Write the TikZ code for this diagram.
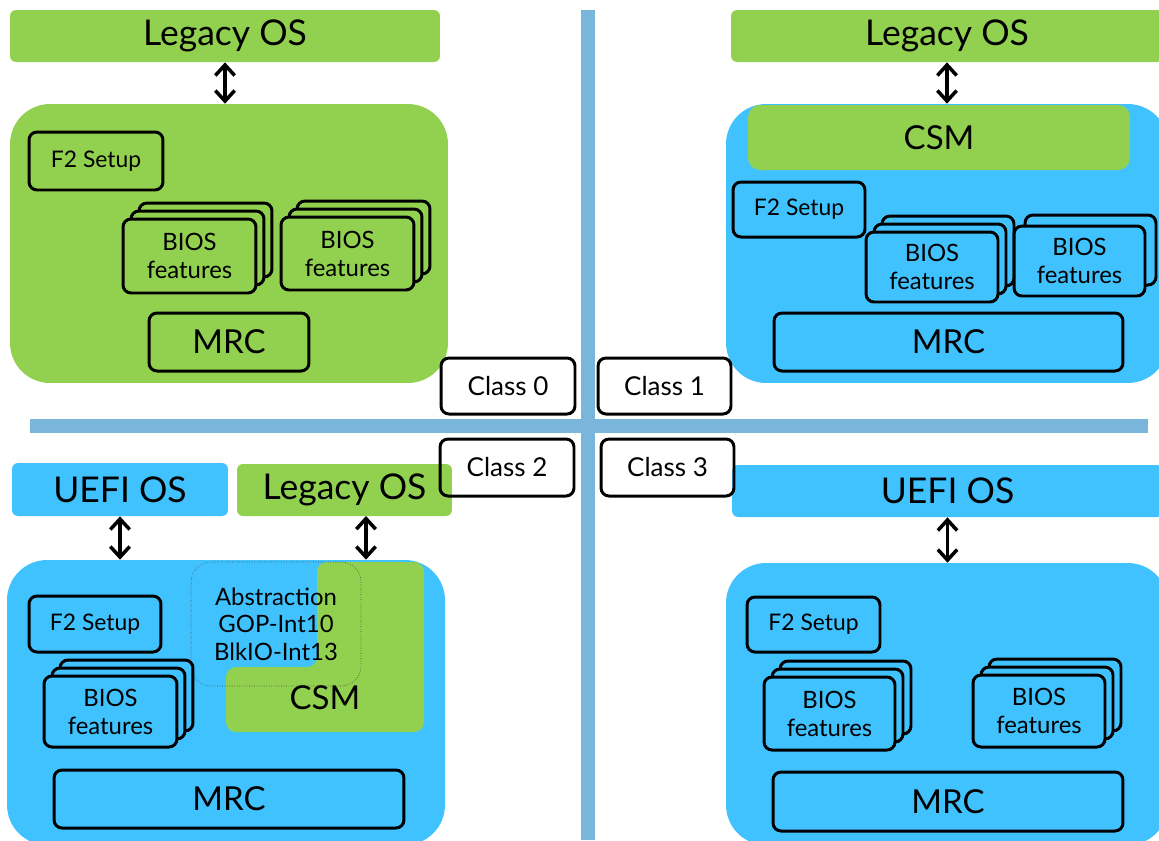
\documentclass[tikz,border=0pt]{standalone}
\usepackage{fontspec}
\setmainfont{Lato}
\usetikzlibrary{arrows.meta}
\usetikzlibrary{shadows}
\definecolor{legacygreen}{RGB}{146,208,80}
\definecolor{uefiblue}{RGB}{64,194,255}
\definecolor{barblue}{RGB}{122,181,220}
\tikzset{
  osbar/.style={rounded corners=0.12cm,inner sep=0pt,font=\fontsize{20.2}{24}\selectfont},
  core/.style={rounded corners=0.8cm,inner sep=0pt},
  part/.style={draw=black,line width=1.7pt,rounded corners=0.16cm,inner sep=0pt,align=center},
  f2/.style={part,font=\fontsize{13}{15}\selectfont},
  mrc/.style={part,font=\fontsize{18.8}{22}\selectfont},
  bios/.style={part,font=\fontsize{13.6}{15.9}\selectfont},
  greenstack/.style={fill=legacygreen,
    copy shadow={shadow xshift=0.32cm,shadow yshift=0.32cm,fill=legacygreen,draw=black,line width=1.7pt},
    copy shadow={shadow xshift=0.16cm,shadow yshift=0.16cm,fill=legacygreen,draw=black,line width=1.7pt}},
  bluestack/.style={fill=uefiblue,
    copy shadow={shadow xshift=0.32cm,shadow yshift=0.32cm,fill=uefiblue,draw=black,line width=1.7pt},
    copy shadow={shadow xshift=0.16cm,shadow yshift=0.16cm,fill=uefiblue,draw=black,line width=1.7pt}},
  bluesingle/.style={fill=uefiblue,
    copy shadow={shadow xshift=0.22cm,shadow yshift=0.22cm,fill=uefiblue,draw=black,line width=1.7pt}},
  classbox/.style={part,font=\fontsize{14.8}{17}\selectfont},
  arr/.style={{Straight Barb[length=6pt,width=11pt]}-{Straight Barb[length=6pt,width=11pt]},line width=2pt}
}
\begin{document}
\begin{tikzpicture}[x=0.02cm,y=-0.02cm]
\clip (0,0) rectangle (1159,840);
\fill[barblue] (30,419) rectangle (1148,433);
\fill[barblue] (581,10) rectangle (595,840);

\node[core,fill=legacygreen,minimum width=8.76cm,minimum height=5.58cm] (core0) at (229,243.5) {};
\node[osbar,fill=legacygreen,minimum width=8.6cm,minimum height=1.04cm] (leg0) at (225,36) {Legacy OS};
\draw[arr] (leg0.south) -- (leg0.south |- core0.north);
\node[f2,minimum width=2.68cm,minimum height=1.16cm] (f2a) at (96,161) {F2 Setup};
\node[bios,greenstack,minimum width=2.66cm,minimum height=1.48cm] (biosa) at (189.5,256) {BIOS\\features};
\node[bios,greenstack,minimum width=2.66cm,minimum height=1.46cm] (biosb) at (347.5,253.5) {BIOS\\features};
\node[mrc,minimum width=3.2cm,minimum height=1.16cm] (mrc0) at (229,342) {MRC};

\node[core,fill=uefiblue,minimum width=8.84cm,minimum height=5.58cm] (core1) at (947,243.5) {};
\node[osbar,fill=legacygreen,minimum width=8.64cm,minimum height=1.04cm] (leg1) at (947,36) {Legacy OS};
\draw[arr] (leg1.south) -- (leg1.south |- core1.north);
\node[fill=legacygreen,rounded corners=0.24cm,minimum width=7.64cm,minimum height=1.3cm,font=\fontsize{18.8}{22}\selectfont] (csm1) at (939,137.5) {CSM};
\node[f2,minimum width=2.64cm,minimum height=1.1cm] (f2b) at (799,209.5) {F2 Setup};
\node[bios,bluestack,minimum width=2.64cm,minimum height=1.4cm] (biosc) at (932,267) {BIOS\\features};
\node[bios,bluesingle,minimum width=2.62cm,minimum height=1.4cm] (biosd) at (1079.5,261) {BIOS\\features};
\node[mrc,minimum width=6.98cm,minimum height=1.16cm] (mrc1) at (948.5,342) {MRC};

\node[core,fill=uefiblue,minimum width=8.76cm,minimum height=5.7cm] (core2) at (226,702.5) {};
\node[osbar,fill=uefiblue,minimum width=4.32cm,minimum height=1.06cm] (uefi2) at (120,489.5) {UEFI OS};
\node[osbar,fill=legacygreen,minimum width=4.3cm,minimum height=1.04cm] (leg2) at (344.5,490) {Legacy OS};
\draw[arr] (uefi2.south) -- (uefi2.south |- core2.north);
\coordinate (a2) at (366,516);
\draw[arr] (a2) -- (a2 |- core2.north);
\fill[legacygreen,rounded corners=0.2cm] (317,562) -- (424,562) -- (424,732) -- (226,732) -- (226,667) -- (317,667) -- cycle;
\node[font=\fontsize{18.8}{22}\selectfont] (csm2) at (325,698) {CSM};
\node[draw=black!70,densely dotted,thin,rounded corners=0.4cm,align=center,minimum width=3.4cm,minimum height=2.48cm,font=\fontsize{13.6}{15.6}\selectfont] (abstr) at (276,624) {Abstraction\\GOP-Int10\\BlkIO-Int13};
\node[f2,minimum width=2.64cm,minimum height=1.12cm] (f2c) at (95,624) {F2 Setup};
\node[bios,bluestack,minimum width=2.66cm,minimum height=1.42cm] (biose) at (110.5,711.5) {BIOS\\features};
\node[mrc,minimum width=7cm,minimum height=1.16cm] (mrc2) at (229,799) {MRC};

\node[core,fill=uefiblue,minimum width=8.84cm,minimum height=5.64cm] (core3) at (947,704) {};
\node[osbar,fill=uefiblue,minimum width=8.62cm,minimum height=1.04cm] (uefi3) at (947.5,491) {UEFI OS};
\draw[arr] (uefi3.south) -- (uefi3.south |- core3.north);
\node[f2,minimum width=2.66cm,minimum height=1.1cm] (f2d) at (813.5,624.5) {F2 Setup};
\node[bios,bluestack,minimum width=2.62cm,minimum height=1.46cm] (biosf) at (829.5,713.5) {BIOS\\features};
\node[bios,bluestack,minimum width=2.64cm,minimum height=1.44cm] (biosg) at (1039,711) {BIOS\\features};
\node[mrc,minimum width=7cm,minimum height=1.18cm] (mrc3) at (948,801.5) {MRC};

\node[classbox,minimum width=2.68cm,minimum height=1.12cm] (cls0) at (508,386) {Class 0};
\node[classbox,minimum width=2.66cm,minimum height=1.12cm] (cls1) at (664.5,386) {Class 1};
\node[classbox,minimum width=2.68cm,minimum height=1.14cm] (cls2) at (507,467.5) {Class 2};
\node[classbox,minimum width=2.66cm,minimum height=1.14cm] (cls3) at (667.5,467.5) {Class 3};
\end{tikzpicture}
\end{document}
